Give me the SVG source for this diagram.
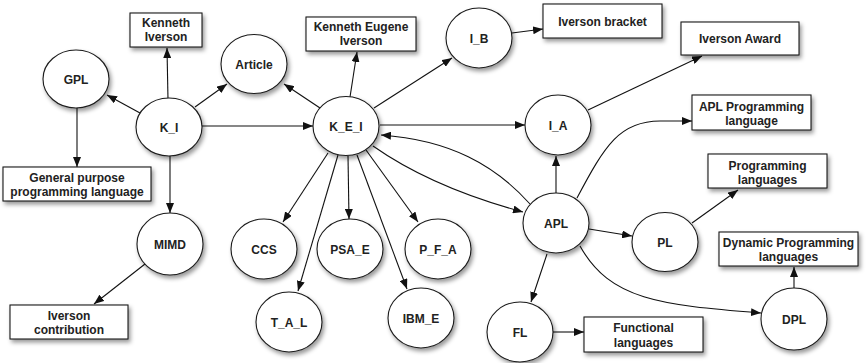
<svg xmlns="http://www.w3.org/2000/svg" width="868" height="363" viewBox="0 0 868 363">
  <defs>
    <style>
      .node ellipse { fill: #fff; stroke: #1a1a1a; stroke-width: 1.1; filter: url(#shadow); }
      .node rect { fill: #fff; stroke: #1a1a1a; stroke-width: 1.1; filter: url(#shadow); }
      .node text { font-family: "Liberation Sans", Arial, sans-serif; font-size: 12px; font-weight: bold; fill: #222; text-anchor: middle; }
      #connectors path { fill: none; stroke: #111; stroke-width: 1.1; marker-end: url(#arrow); }
    </style>
    <filter id="shadow" x="-20%" y="-20%" width="150%" height="160%">
      <feDropShadow dx="2" dy="3" stdDeviation="2" flood-color="#000" flood-opacity="0.4"/>
    </filter>
    <marker id="arrow" markerUnits="userSpaceOnUse" markerWidth="10" markerHeight="8" refX="10" refY="4" orient="auto">
      <path d="M0,0 L10,4 L0,8 z" fill="#111"/>
    </marker>
  </defs>
  <rect width="868" height="363" fill="#fff"/>

  <g id="connectors">
    <path d="M140,113 L107,95"/>
    <path d="M168,100 L167,48"/>
    <path d="M195,107 L227,84"/>
    <path d="M202,126 L313,126"/>
    <path d="M170,156 L170,213"/>
    <path d="M77,107 L77,167"/>
    <path d="M145,264 L94,304"/>
    <path d="M320,108 L284,84"/>
    <path d="M350,97 L357,52"/>
    <path d="M374,108 L452,58"/>
    <path d="M512,33 L543,29"/>
    <path d="M380,125 L525,125"/>
    <path d="M530,204 C495,165 450,140 381,135"/>
    <path d="M373,146 C410,172 460,195 523,212"/>
    <path d="M328,153 L283,222"/>
    <path d="M338,155 L298,291"/>
    <path d="M348,156 L349,219"/>
    <path d="M357,155 L407,289"/>
    <path d="M366,150 L418,222"/>
    <path d="M556,193 L556,156"/>
    <path d="M588,110 L702,56"/>
    <path d="M577,198 C605,145 620,121 660,121 L692,121"/>
    <path d="M589,229 L632,236"/>
    <path d="M547,254 L531,302"/>
    <path d="M580,246 C610,300 660,305 761,313"/>
    <path d="M692,223 L738,190"/>
    <path d="M794,288 L794,267"/>
    <path d="M552,332 L584,332"/>
  </g>

  <!-- ellipse nodes -->
  <g id="GPL" class="node"><ellipse cx="76" cy="79" rx="33" ry="29"/><text x="76" y="83.5">GPL</text></g>
  <g id="K_I" class="node"><ellipse cx="169" cy="127" rx="33" ry="29"/><text x="169" y="131.5">K_I</text></g>
  <g id="Article" class="node"><ellipse cx="254" cy="64" rx="33" ry="29.5"/><text x="254" y="68.5">Article</text></g>
  <g id="K_E_I" class="node"><ellipse cx="346" cy="126" rx="33" ry="29.5"/><text x="346" y="130.5">K_E_I</text></g>
  <g id="I_B" class="node"><ellipse cx="479" cy="38" rx="33" ry="30"/><text x="479" y="42.5">I_B</text></g>
  <g id="I_A" class="node"><ellipse cx="558" cy="125" rx="33" ry="30"/><text x="558" y="129.5">I_A</text></g>
  <g id="APL" class="node"><ellipse cx="556" cy="223" rx="33" ry="30"/><text x="556" y="227.5">APL</text></g>
  <g id="PL" class="node"><ellipse cx="665" cy="242" rx="33" ry="29.5"/><text x="665" y="246.5">PL</text></g>
  <g id="DPL" class="node"><ellipse cx="794" cy="319" rx="33" ry="31"/><text x="794" y="323.5">DPL</text></g>
  <g id="FL" class="node"><ellipse cx="520" cy="332" rx="33" ry="30"/><text x="520" y="336.5">FL</text></g>
  <g id="IBM_E" class="node"><ellipse cx="421" cy="318" rx="33" ry="30"/><text x="421" y="322.5">IBM_E</text></g>
  <g id="P_F_A" class="node"><ellipse cx="438" cy="249" rx="33" ry="30"/><text x="438" y="253.5">P_F_A</text></g>
  <g id="PSA_E" class="node"><ellipse cx="350" cy="249" rx="33" ry="30"/><text x="350" y="253.5">PSA_E</text></g>
  <g id="CCS" class="node"><ellipse cx="264" cy="249" rx="33" ry="30"/><text x="264" y="253.5">CCS</text></g>
  <g id="T_A_L" class="node"><ellipse cx="289" cy="322" rx="33" ry="30"/><text x="289" y="326.5">T_A_L</text></g>
  <g id="MIMD" class="node"><ellipse cx="170" cy="244" rx="33" ry="31"/><text x="170" y="248.5">MIMD</text></g>

  <!-- box nodes -->
  <g id="Kenneth_Iverson" class="node"><rect x="130" y="13" width="72" height="34"/><text x="166" y="26.5">Kenneth</text><text x="166" y="41">Iverson</text></g>
  <g id="Kenneth_Eugene_Iverson" class="node"><rect x="306" y="17" width="110" height="34"/><text x="361" y="30.5">Kenneth Eugene</text><text x="361" y="45">Iverson</text></g>
  <g id="Iverson_bracket" class="node"><rect x="543" y="4" width="119" height="34"/><text x="602.5" y="25.5">Iverson bracket</text></g>
  <g id="Iverson_Award" class="node"><rect x="681" y="22" width="118" height="33"/><text x="740" y="42.5">Iverson Award</text></g>
  <g id="APL_Programming_language" class="node"><rect x="692" y="95" width="119" height="35"/><text x="751.5" y="110.5">APL Programming</text><text x="751.5" y="124.5">language</text></g>
  <g id="Programming_languages" class="node"><rect x="708" y="154" width="119" height="34"/><text x="767.5" y="169.5">Programming</text><text x="767.5" y="183.5">languages</text></g>
  <g id="Dynamic_Programming_languages" class="node"><rect x="719" y="232" width="139" height="34"/><text x="788.5" y="246.5">Dynamic Programming</text><text x="788.5" y="260.5">languages</text></g>
  <g id="Functional_languages" class="node"><rect x="584" y="317" width="119" height="35"/><text x="643.5" y="332">Functional</text><text x="643.5" y="346.5">languages</text></g>
  <g id="General_purpose_programming_language" class="node"><rect x="3" y="167" width="148" height="34"/><text x="77" y="181.5">General purpose</text><text x="77" y="196">programming language</text></g>
  <g id="Iverson_contribution" class="node"><rect x="10" y="305" width="118" height="34"/><text x="69" y="319.5">Iverson</text><text x="69" y="333.5">contribution</text></g>
</svg>
